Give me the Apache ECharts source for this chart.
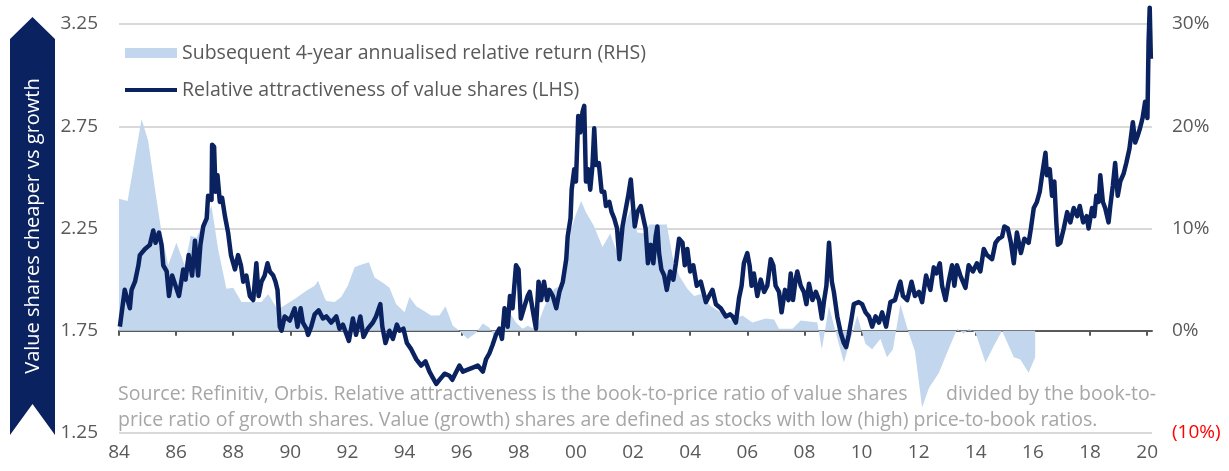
<!DOCTYPE html>
<html>
<head>
<meta charset="utf-8">
<script src="https://cdn.jsdelivr.net/npm/echarts@6/dist/echarts.min.js"></script>
<style>
  html, body { margin: 0; padding: 0; background: #fff; }
  #chart { width: 1229px; height: 471px; }
</style>
</head>
<body>
<div id="chart"></div>
<script>
const xTicks = [1984, 1986, 1988, 1990, 1992, 1994, 1996, 1998, 2000, 2002,
  2004, 2006, 2008, 2010, 2012, 2014, 2016, 2018, 2020];
const leftTicks = [1.25, 1.75, 2.25, 2.75, 3.25];
const rightTicks = [-10, 0, 10, 20, 30];

// relative attractiveness of value shares (LHS), [year, ratio]
const attractiveness = [
  [1984.03, 1.77], [1984.2, 1.95], [1984.38, 1.86], [1984.44, 1.95], [1984.56, 1.99],
  [1984.68, 2.07], [1984.73, 2.12], [1984.91, 2.15], [1985.08, 2.17], [1985.2, 2.24],
  [1985.28, 2.18], [1985.4, 2.23], [1985.49, 2.17], [1985.55, 2.07], [1985.67, 2.04],
  [1985.75, 1.92], [1985.86, 2.02], [1985.98, 1.97], [1986.1, 1.92], [1986.25, 2.05],
  [1986.33, 2.0], [1986.44, 2.12], [1986.56, 2.02], [1986.66, 2.19], [1986.77, 2.02],
  [1986.85, 2.17], [1986.95, 2.26], [1987.07, 2.3], [1987.12, 2.41], [1987.24, 2.39],
  [1987.26, 2.66], [1987.33, 2.65], [1987.38, 2.43], [1987.45, 2.51], [1987.53, 2.38],
  [1987.61, 2.4], [1987.71, 2.31], [1987.82, 2.23], [1987.92, 2.12], [1988.06, 2.05],
  [1988.17, 2.12], [1988.27, 2.07], [1988.35, 1.99], [1988.46, 2.02], [1988.58, 1.92],
  [1988.7, 1.9], [1988.81, 2.08], [1988.89, 1.92], [1988.99, 1.99], [1989.1, 2.02],
  [1989.2, 2.08], [1989.28, 2.04], [1989.4, 2.02], [1989.48, 1.99], [1989.55, 1.95],
  [1989.63, 1.77], [1989.69, 1.75], [1989.8, 1.82], [1989.98, 1.8], [1990.15, 1.86],
  [1990.25, 1.77], [1990.36, 1.86], [1990.44, 1.79], [1990.56, 1.76], [1990.62, 1.73],
  [1990.73, 1.77], [1990.85, 1.83], [1990.99, 1.85], [1991.14, 1.81], [1991.26, 1.82],
  [1991.43, 1.79], [1991.61, 1.82], [1991.72, 1.76], [1991.84, 1.78], [1992.05, 1.7],
  [1992.19, 1.81], [1992.3, 1.73], [1992.45, 1.82], [1992.56, 1.72], [1992.71, 1.76],
  [1992.89, 1.79], [1993.0, 1.82], [1993.15, 1.88], [1993.22, 1.77], [1993.33, 1.69],
  [1993.47, 1.75], [1993.59, 1.71], [1993.73, 1.78], [1993.82, 1.75], [1993.96, 1.76],
  [1994.08, 1.69], [1994.23, 1.66], [1994.41, 1.61], [1994.58, 1.58], [1994.73, 1.6],
  [1994.87, 1.55], [1994.99, 1.52], [1995.11, 1.49], [1995.22, 1.51], [1995.4, 1.54],
  [1995.57, 1.53], [1995.67, 1.51], [1995.81, 1.55], [1995.92, 1.58], [1996.04, 1.55],
  [1996.21, 1.56], [1996.39, 1.57], [1996.56, 1.58], [1996.74, 1.55], [1996.85, 1.61],
  [1996.97, 1.64], [1997.08, 1.68], [1997.2, 1.73], [1997.32, 1.76], [1997.41, 1.71],
  [1997.5, 1.86], [1997.61, 1.77], [1997.69, 1.92], [1997.78, 1.86], [1997.9, 2.07],
  [1997.99, 2.05], [1998.07, 1.81], [1998.2, 1.87], [1998.31, 1.92], [1998.38, 1.94],
  [1998.5, 1.84], [1998.6, 1.76], [1998.69, 1.99], [1998.78, 1.9], [1998.88, 1.99],
  [1998.99, 1.9], [1999.07, 1.95], [1999.19, 1.92], [1999.31, 1.86], [1999.42, 1.94],
  [1999.54, 1.99], [1999.66, 2.1], [1999.71, 2.21], [1999.81, 2.3], [1999.85, 2.44],
  [1999.94, 2.54], [2000.0, 2.48], [2000.08, 2.8], [2000.15, 2.72], [2000.23, 2.82],
  [2000.29, 2.85], [2000.35, 2.48], [2000.43, 2.54], [2000.5, 2.44], [2000.58, 2.56],
  [2000.64, 2.74], [2000.7, 2.56], [2000.8, 2.57], [2000.9, 2.43], [2000.99, 2.43],
  [2001.05, 2.36], [2001.17, 2.38], [2001.25, 2.33], [2001.34, 2.3], [2001.44, 2.25],
  [2001.52, 2.1], [2001.58, 2.1], [2001.63, 2.26], [2001.75, 2.35], [2001.83, 2.41],
  [2001.92, 2.49], [2001.98, 2.39], [2002.06, 2.26], [2002.15, 2.33], [2002.27, 2.36],
  [2002.36, 2.3], [2002.44, 2.25], [2002.52, 2.08], [2002.62, 2.17], [2002.71, 2.08],
  [2002.79, 2.21], [2002.85, 2.26], [2002.91, 2.13], [2002.99, 2.05], [2003.09, 2.02],
  [2003.18, 1.95], [2003.3, 2.04], [2003.41, 2.0], [2003.5, 2.08], [2003.61, 2.2],
  [2003.73, 2.18], [2003.81, 2.07], [2003.9, 2.15], [2004.0, 2.04], [2004.11, 2.07],
  [2004.23, 1.97], [2004.37, 1.99], [2004.55, 1.89], [2004.66, 1.92], [2004.78, 1.95],
  [2004.9, 1.88], [2005.07, 1.86], [2005.25, 1.82], [2005.4, 1.83], [2005.48, 1.82],
  [2005.6, 1.79], [2005.71, 1.91], [2005.8, 1.97], [2005.88, 2.08], [2006.0, 2.13],
  [2006.08, 2.07], [2006.15, 1.97], [2006.23, 2.03], [2006.35, 1.92], [2006.47, 2.0],
  [2006.59, 1.94], [2006.7, 1.97], [2006.82, 2.1], [2006.91, 2.07], [2006.99, 1.97],
  [2007.11, 1.94], [2007.2, 1.84], [2007.32, 1.95], [2007.44, 1.9], [2007.52, 2.03],
  [2007.6, 1.9], [2007.69, 2.0], [2007.75, 2.04], [2007.87, 1.97], [2007.98, 1.94],
  [2008.07, 1.88], [2008.16, 1.98], [2008.28, 1.9], [2008.4, 1.94], [2008.51, 1.9],
  [2008.61, 1.81], [2008.69, 1.9], [2008.77, 1.97], [2008.86, 2.18], [2008.92, 2.18],
  [2008.96, 1.99], [2009.03, 1.94], [2009.15, 1.82], [2009.27, 1.74], [2009.38, 1.69],
  [2009.46, 1.67], [2009.55, 1.73], [2009.65, 1.81], [2009.73, 1.88], [2009.9, 1.89],
  [2010.02, 1.88], [2010.14, 1.84], [2010.26, 1.82], [2010.37, 1.77], [2010.49, 1.82],
  [2010.61, 1.79], [2010.72, 1.84], [2010.86, 1.77], [2011.01, 1.89], [2011.17, 1.9],
  [2011.31, 1.97], [2011.36, 1.99], [2011.45, 1.92], [2011.6, 1.9], [2011.75, 1.99],
  [2011.87, 1.92], [2012.01, 1.94], [2012.12, 1.89], [2012.26, 2.02], [2012.41, 1.95],
  [2012.53, 2.06], [2012.62, 2.03], [2012.74, 2.08], [2012.82, 1.97], [2012.94, 1.9],
  [2013.05, 1.99], [2013.17, 2.07], [2013.25, 1.97], [2013.34, 2.07], [2013.46, 2.02],
  [2013.64, 1.96], [2013.75, 2.07], [2013.9, 2.04], [2014.04, 2.08], [2014.16, 2.04],
  [2014.28, 2.15], [2014.39, 2.12], [2014.57, 2.1], [2014.69, 2.18], [2014.8, 2.2],
  [2014.92, 2.21], [2015.0, 2.26], [2015.12, 2.25], [2015.23, 2.18], [2015.33, 2.08],
  [2015.44, 2.23], [2015.58, 2.13], [2015.7, 2.2], [2015.85, 2.18], [2015.93, 2.25],
  [2016.03, 2.35], [2016.14, 2.38], [2016.24, 2.43], [2016.32, 2.51], [2016.44, 2.62],
  [2016.49, 2.51], [2016.59, 2.54], [2016.67, 2.41], [2016.75, 2.48], [2016.82, 2.28],
  [2016.87, 2.17], [2016.96, 2.18], [2017.08, 2.25], [2017.2, 2.33], [2017.31, 2.28],
  [2017.43, 2.35], [2017.55, 2.31], [2017.64, 2.36], [2017.76, 2.28], [2017.88, 2.31],
  [2017.95, 2.25], [2018.07, 2.35], [2018.15, 2.31], [2018.22, 2.41], [2018.3, 2.38],
  [2018.36, 2.51], [2018.45, 2.38], [2018.53, 2.35], [2018.65, 2.28], [2018.71, 2.36],
  [2018.8, 2.46], [2018.88, 2.57], [2018.97, 2.41], [2019.06, 2.48], [2019.18, 2.52],
  [2019.27, 2.57], [2019.38, 2.64], [2019.5, 2.77], [2019.58, 2.67], [2019.66, 2.7],
  [2019.75, 2.74], [2019.84, 2.79], [2019.93, 2.87], [2020.01, 2.79], [2020.05, 3.16],
  [2020.09, 3.33], [2020.13, 3.08]
];

// subsequent 4-year annualised relative return (RHS), [year, %]
const forwardReturn = [
  [1984.0, 12.9], [1984.3, 12.7], [1984.79, 20.7], [1985.02, 18.6], [1985.31, 12.9],
  [1985.49, 9.6], [1985.72, 6.4], [1986.01, 8.6], [1986.3, 6.4], [1986.51, 9.3],
  [1986.71, 9.1], [1987.24, 12.2], [1987.47, 8.0], [1987.76, 4.1], [1988.0, 4.2],
  [1988.29, 2.8], [1988.64, 2.8], [1988.99, 2.8], [1989.22, 3.6], [1989.57, 2.0],
  [1989.69, 2.3], [1990.15, 3.1], [1990.56, 3.9], [1990.85, 4.4], [1990.97, 4.9],
  [1991.2, 3.2], [1991.26, 2.9], [1991.55, 2.8], [1991.78, 3.3], [1992.01, 4.4],
  [1992.25, 6.2], [1992.42, 6.4], [1992.75, 6.7], [1992.95, 5.2], [1993.24, 4.7],
  [1993.47, 4.2], [1993.71, 2.6], [1994.0, 1.8], [1994.17, 3.3], [1994.41, 2.4],
  [1994.64, 2.0], [1994.93, 1.5], [1995.22, 1.5], [1995.43, 2.4], [1995.69, 0.5],
  [1995.92, 0], [1996.21, -0.8], [1996.5, -0.2], [1996.74, 0.7], [1996.97, 0.3],
  [1997.2, -0.8], [1997.43, 0.2], [1997.67, 1.8], [1997.9, 0.8], [1998.13, 0.2],
  [1998.31, 0.5], [1998.6, 0.1], [1998.9, 2.4], [1999.24, 4.1], [1999.48, 4.4],
  [1999.65, 5.7], [1999.83, 9.9], [2000.0, 11.4], [2000.18, 12.7], [2000.35, 11.6],
  [2000.62, 10.3], [2000.93, 8.2], [2001.2, 9.5], [2001.52, 7.0], [2001.69, 10.3],
  [2001.92, 11.9], [2002.15, 9.6], [2002.4, 9.5], [2002.57, 10.4], [2002.86, 10.4],
  [2003.18, 10.4], [2003.38, 7.3], [2003.61, 5.4], [2003.9, 4.1], [2004.14, 3.4],
  [2004.37, 3.6], [2004.72, 2.4], [2005.07, 1.8], [2005.4, 1.0], [2005.83, 1.5],
  [2006.18, 0.8], [2006.64, 1.2], [2006.94, 1.1], [2007.11, 0.2], [2007.58, 0.2],
  [2007.87, 1.0], [2008.16, 0.9], [2008.45, 0.8], [2008.61, -1.8], [2008.86, 2.4],
  [2009.1, -0.2], [2009.38, -3.1], [2009.62, -0.8], [2009.85, 1.5], [2010.14, -1.3],
  [2010.37, -1.8], [2010.66, -0.8], [2010.89, -2.6], [2011.1, -1.8], [2011.36, 2.6],
  [2011.65, -0.2], [2011.87, -2.0], [2012.12, -7.5], [2012.36, -5.6], [2012.71, -4.1],
  [2013.0, -2.1], [2013.35, 0.2], [2013.58, -0.3], [2013.76, 0.2], [2013.99, -0.2],
  [2014.34, -3.1], [2014.63, -1.5], [2014.92, 0], [2015.33, -2.6], [2015.56, -2.8],
  [2015.85, -4.1], [2016.08, -2.6]
];

const returnName = "Subsequent 4-year annualised relative return (RHS)";
const lineName = "Relative attractiveness of value shares (LHS)";
const sourceLine1a = "Source: Refinitiv, Orbis. Relative attractiveness is the book-to-price ratio of value shares";
const sourceLine1b = "divided by the book-to-";
const sourceLine2 = "price ratio of growth shares. Value (growth) shares are defined as stocks with low (high) price-to-book ratios.";

const navy = "#0a2260";
const grey = "#595959";
const font = "Open Sans";

const chart = echarts.init(document.getElementById("chart"));

const xBase = {
  type: "value",
  min: 1984,
  max: 2020.17,
  interval: 2,
  position: "bottom",
  splitLine: { show: false },
};

const legendBase = {
  left: 120,
  orient: "vertical",
  itemWidth: 52,
  icon: "rect",
  textStyle: { fontSize: 19.5, color: grey, fontFamily: font },
};

const option = {
  animation: false,
  textStyle: { fontFamily: font },
  grid: { left: 119, right: 77, top: 24, bottom: 38 },
  legend: [
    { ...legendBase, top: 38, itemHeight: 10, data: [returnName] },
    { ...legendBase, top: 75, itemHeight: 4, data: [lineName] },
  ],
  xAxis: [
    {
      ...xBase,
      axisLine: { show: false, onZero: false },
      axisTick: { show: false },
      axisLabel: {
        customValues: xTicks,
        margin: 10,
        fontSize: 19,
        color: grey,
        formatter: (v) => String(Math.round(v) % 100).padStart(2, "0"),
      },
    },
    {
      ...xBase,
      axisLine: {
        onZero: true,
        onZeroAxisIndex: 1,
        lineStyle: { color: grey, width: 2 },
      },
      axisTick: {
        customValues: xTicks,
        length: 5,
        lineStyle: { color: grey, width: 2 },
      },
      axisLabel: { show: false },
    },
  ],
  yAxis: [
    {
      type: "value",
      min: 1.25,
      max: 3.25,
      interval: 0.25,
      position: "left",
      axisLine: { show: false },
      axisTick: { show: false },
      splitLine: { show: false },
      axisLabel: {
        margin: 21,
        fontSize: 19,
        color: grey,
        formatter: (v) =>
          leftTicks.some((t) => Math.abs(t - v) < 1e-6) ? v.toFixed(2) : "",
      },
    },
    {
      type: "value",
      min: rightTicks[0],
      max: rightTicks[rightTicks.length - 1],
      interval: 10,
      position: "right",
      axisLine: { show: false },
      axisTick: { show: false },
      splitLine: { lineStyle: { color: "#d9d9d9", width: 2 } },
      axisLabel: {
        margin: 20,
        fontSize: 19,
        color: (v) => (v < 0 ? "#ff0000" : grey),
        formatter: (v) => (v < 0 ? "(" + Math.abs(v) + "%)" : v + "%"),
      },
    },
  ],
  series: [
    {
      name: returnName,
      type: "line",
      xAxisIndex: 0,
      yAxisIndex: 1,
      data: forwardReturn,
      symbol: "none",
      lineStyle: { width: 0 },
      itemStyle: { color: "#c2d7ee" },
      areaStyle: { color: "#c2d7ee", opacity: 1 },
      z: 1,
    },
    {
      name: lineName,
      type: "line",
      xAxisIndex: 0,
      yAxisIndex: 0,
      data: attractiveness,
      symbol: "none",
      clip: false,
      lineStyle: { color: navy, width: 4.5, join: "round" },
      itemStyle: { color: navy },
      z: 3,
    },
  ],
  graphic: [
    {
      type: "polygon",
      shape: {
        points: [[10, 39], [32.5, 17], [55, 39], [55, 435], [32.5, 404], [10, 435]],
      },
      style: { fill: navy },
    },
    {
      type: "text",
      x: 33,
      y: 226,
      rotation: Math.PI / 2,
      style: {
        text: "Value shares cheaper vs growth",
        fill: "#ffffff",
        font: "20px " + font,
        align: "center",
        verticalAlign: "middle",
      },
    },
    {
      type: "text",
      x: 118,
      y: 394,
      style: { text: sourceLine1a, fill: "#a6a6a6", font: "19.5px " + font, verticalAlign: "middle" },
    },
    {
      type: "text",
      x: 946,
      y: 394,
      style: { text: sourceLine1b, fill: "#a6a6a6", font: "19.5px " + font, verticalAlign: "middle" },
    },
    {
      type: "text",
      x: 118,
      y: 420,
      style: { text: sourceLine2, fill: "#a6a6a6", font: "19.5px " + font, verticalAlign: "middle" },
    },
  ],
};

chart.setOption(option);
</script>
</body>
</html>
